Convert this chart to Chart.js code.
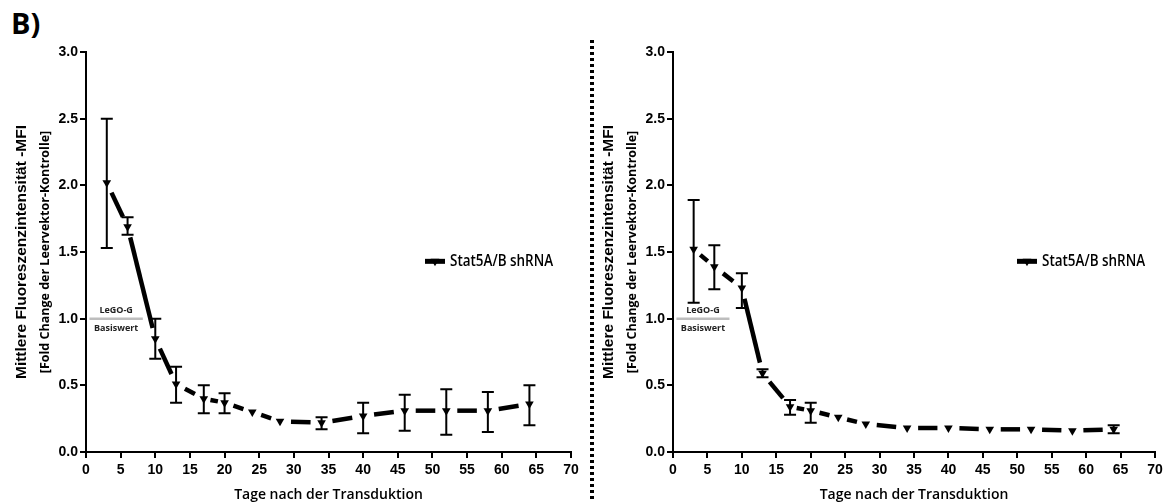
<!DOCTYPE html>
<html>
<head>
<meta charset="utf-8">
<script src="https://cdn.jsdelivr.net/npm/chart.js@4"></script>
<style>
body{margin:0;background:#fff;width:1167px;height:502px;overflow:hidden;position:relative}
#links{position:absolute;left:0;top:0}
#rechts{position:absolute;left:585px;top:0}
#trenner{position:absolute;left:590px;top:40px;width:4px;height:462px;background:repeating-linear-gradient(to bottom,#000 0 3px,transparent 3px 6px)}
#panel{position:absolute;left:11px;top:3px;font:bold 29px "Open Sans";color:#000}
</style>
</head>
<body>
<div id="panel">B)</div>
<canvas id="links" width="585" height="502"></canvas>
<canvas id="rechts" width="582" height="502"></canvas>
<div id="trenner"></div>
<script>
// Tage nach der Transduktion
var tage = [3, 6, 10, 13, 17, 20, 24, 28, 34, 40, 46, 52, 58, 64];

// linkes Panel
var mfiLinks   = [2.02, 1.69, 0.85, 0.51, 0.40, 0.37, 0.30, 0.23, 0.22, 0.27, 0.31, 0.31, 0.31, 0.36];
var obenLinks  = [2.50, 1.76, 1.00, 0.64, 0.50, 0.44, null, null, 0.26, 0.37, 0.43, 0.47, 0.45, 0.50];
var untenLinks = [1.53, 1.63, 0.70, 0.37, 0.29, 0.29, null, null, 0.17, 0.14, 0.16, 0.13, 0.15, 0.20];

// rechtes Panel
var mfiRechts   = [1.52, 1.39, 1.23, 0.59, 0.34, 0.31, 0.26, 0.21, 0.18, 0.18, 0.17, 0.17, 0.16, 0.17];
var obenRechts  = [1.89, 1.55, 1.34, 0.62, 0.39, 0.37, null, null, null, null, null, null, null, 0.20];
var untenRechts = [1.12, 1.22, 1.08, 0.56, 0.28, 0.22, null, null, null, null, null, null, null, 0.14];

// LeGO-G Basiswert
var basisX = [0.5, 8.2];
var basisY = [1.0, 1.0];

var legendeText = 'Stat5A/B shRNA';
var yTitel1 = 'Mittlere Fluoreszenzintensität -MFI';
var yTitel2 = '[Fold Change der Leervektor-Kontrolle]';
var xTitel = 'Tage nach der Transduktion';

function punkte(xs, ys){
    var list = [];
    for (var i = 0; i < xs.length; i++) list.push({x: xs[i], y: ys[i]});
    return list;
}

// jede Verbindung als ein Strich mit Luecke an beiden Markern
function segLaenge(ctx){
    return Math.hypot(ctx.p1.x - ctx.p0.x, ctx.p1.y - ctx.p0.y);
}
function luecke(L){ return Math.min(11, L * 0.32); }

function dreieck(c, x, y, r){
    c.beginPath();
    c.moveTo(x - r * 0.87, y - r * 0.5);
    c.lineTo(x + r * 0.87, y - r * 0.5);
    c.lineTo(x, y + r);
    c.closePath();
    c.fill();
}

var extras = {
    id: 'extras',
    afterDatasetsDraw: function(chart){
        var c = chart.ctx, a = chart.chartArea;
        var xs = chart.scales.x, ys = chart.scales.y;
        var o = chart.options.plugins.extras;

        // Fehlerbalken
        c.save();
        c.strokeStyle = '#000';
        c.lineWidth = 2;
        for (var i = 0; i < tage.length; i++){
            if (o.oben[i] == null) continue;
            var px = xs.getPixelForValue(tage[i]);
            var yo = ys.getPixelForValue(o.oben[i]);
            var yu = ys.getPixelForValue(o.unten[i]);
            c.beginPath();
            c.moveTo(px, yo); c.lineTo(px, yu);
            c.moveTo(px - 6, yo); c.lineTo(px + 6, yo);
            c.moveTo(px - 6, yu); c.lineTo(px + 6, yu);
            c.stroke();
        }

        // Basiswert Beschriftung
        var bx = xs.getPixelForValue((basisX[0] + basisX[1]) / 2);
        var by = ys.getPixelForValue(basisY[0]);
        c.fillStyle = '#222';
        c.font = 'bold 9px "Open Sans"';
        c.textAlign = 'center';
        c.textBaseline = 'middle';
        c.fillText('LeGO-G', bx, by - 8);
        c.fillText('Basiswert', bx, by + 10);

        // Legende
        var lx = a.left + o.legendeX, ly = ys.getPixelForValue(1.43);
        c.fillStyle = '#000';
        c.fillRect(lx - 10, ly - 2.5, 20, 5);
        dreieck(c, lx, ly, 5);
        c.save();
        c.translate(lx + 15, ly);
        c.scale(0.84, 1);
        c.font = '600 16px "Open Sans"';
        c.textAlign = 'left';
        c.fillText(legendeText, 0, 0);
        c.restore();

        // Achsentitel
        c.textAlign = 'center';
        c.font = '600 14px "Open Sans"';
        c.fillText(xTitel, (a.left + a.right) / 2, a.bottom + 43);
        c.save();
        c.translate(a.left - 64, (a.top + a.bottom) / 2);
        c.rotate(-Math.PI / 2);
        c.font = 'bold 15.5px "Liberation Sans"';
        c.fillText(yTitel1, 0, 0);
        c.restore();
        c.save();
        c.translate(a.left - 41, (a.top + a.bottom) / 2);
        c.rotate(-Math.PI / 2);
        c.font = 'bold 12.5px "Open Sans"';
        c.fillText(yTitel2, 0, 0);
        c.restore();
        c.restore();
    }
};

function zeichne(id, werte, oben, unten, yBreite, rechtsPad, legendeX){
    var tickFont = {family: 'Liberation Sans', size: 14, weight: 'bold'};
    return new Chart(document.getElementById(id), {
        type: 'line',
        data: {
            datasets: [{
                data: punkte(basisX, basisY),
                borderColor: '#bdbdbd',
                borderWidth: 2.5,
                pointRadius: 0
            }, {
                data: punkte(tage, werte),
                borderColor: '#000',
                borderWidth: 4.5,
                borderCapStyle: 'butt',
                pointStyle: 'triangle',
                rotation: 180,
                pointRadius: 5,
                pointBackgroundColor: '#000',
                pointBorderColor: '#000',
                pointBorderWidth: 0,
                segment: {
                    borderDash: function(ctx){
                        var L = segLaenge(ctx), g = luecke(L);
                        return [L - 2 * g, 2 * g];
                    },
                    borderDashOffset: function(ctx){
                        var L = segLaenge(ctx);
                        return L - luecke(L);
                    }
                }
            }]
        },
        options: {
            responsive: false,
            animation: false,
            layout: {padding: {left: 0, top: 52, right: rechtsPad, bottom: 0}},
            plugins: {
                legend: {display: false},
                tooltip: {enabled: false},
                extras: {oben: oben, unten: unten, legendeX: legendeX}
            },
            scales: {
                x: {
                    type: 'linear', min: 0, max: 70,
                    afterFit: function(s){ s.height = 50; },
                    border: {color: '#000', width: 2},
                    grid: {drawOnChartArea: false, color: '#000', lineWidth: 2, tickLength: 6},
                    ticks: {stepSize: 5, color: '#000', font: tickFont, padding: 4, maxRotation: 0}
                },
                y: {
                    min: 0, max: 3,
                    afterFit: function(s){ s.width = yBreite; },
                    border: {color: '#000', width: 2},
                    grid: {drawOnChartArea: false, color: '#000', lineWidth: 2, tickLength: 6},
                    ticks: {stepSize: 0.5, color: '#000', font: tickFont, padding: 2,
                        callback: function(v){ return v.toFixed(1); }}
                }
            }
        },
        plugins: [extras]
    });
}

zeichne('links', mfiLinks, obenLinks, untenLinks, 86, 14, 349);
zeichne('rechts', mfiRechts, obenRechts, untenRechts, 88, 12, 354);
</script>
</body>
</html>
